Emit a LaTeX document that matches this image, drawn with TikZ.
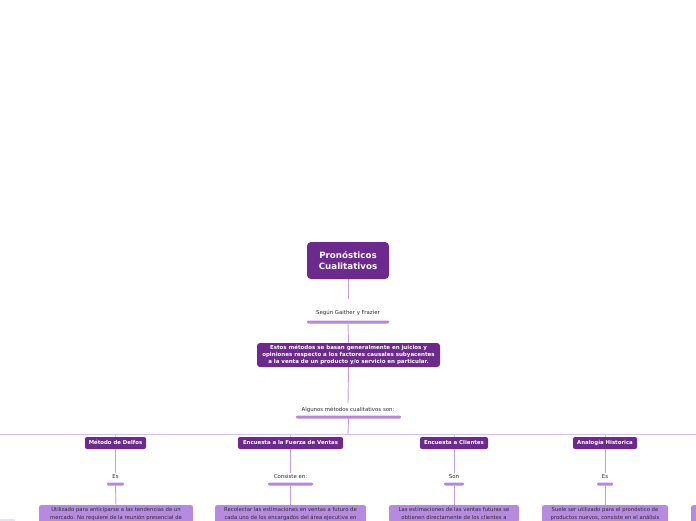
\documentclass[tikz,border=0pt]{standalone}
\usepackage{fontspec}
\setmainfont{DejaVu Sans}
\definecolor{dpurple}{RGB}{108,42,142}
\definecolor{barpurple}{RGB}{184,134,222}
\definecolor{linepurple}{RGB}{196,156,230}
\definecolor{hlinepurple}{RGB}{216,190,238}
\definecolor{bodypurple}{RGB}{182,138,222}
\definecolor{txtgray}{RGB}{45,45,45}
\tikzset{
  titlebox/.style={fill=dpurple, rounded corners=4pt, text=white, font=\fontsize{8.7}{10.5}\selectfont\bfseries, align=center, inner sep=0pt},
  mainbox/.style={fill=dpurple, rounded corners=3pt, text=white, font=\fontsize{5.5}{7}\selectfont\bfseries, align=center, inner sep=0pt},
  childbox/.style={fill=dpurple, rounded corners=2pt, text=white, font=\fontsize{5.4}{6}\selectfont\bfseries, align=center, inner sep=0pt, minimum height=12pt, text height=4.2pt, text depth=1.2pt},
  lbl/.style={text=txtgray, font=\fontsize{5.4}{6}\selectfont, inner sep=1pt, text height=4.2pt, text depth=1.2pt},
  barnode/.style={fill=barpurple, rounded corners=1.2pt, minimum height=3pt, inner sep=0pt},
  bodybox/.style={fill=bodypurple, rounded corners=2pt, text=txtgray, font=\fontsize{5.3}{8}\selectfont, align=center, inner xsep=0pt, inner ysep=2.2pt, anchor=north},
  conn/.style={draw=linepurple, line width=0.9pt},
  hconn/.style={draw=hlinepurple, line width=0.9pt},
}
\begin{document}
\begin{tikzpicture}[x=1pt,y=-1pt]
\useasboundingbox (0,0) rectangle (696,520);
\fill[white] (0,0) rectangle (696,520);
\clip (0,0) rectangle (696,520);

% root
\node[titlebox, minimum width=82pt, minimum height=37pt] (t) at (348,260.5) {Pronósticos\\Cualitativos};
\node[lbl] (l1) at (348,313) {Según Gaither y Frazier};
\node[barnode, minimum width=82pt] (b1) at (348,322) {};
\node[mainbox, minimum width=183pt, minimum height=24pt] (m) at (348.5,355) {Estos métodos se basan generalmente en juicios y\\opiniones respecto a los factores causales subyacentes\\a la venta de un producto y/o servicio en particular.};
\node[lbl] (l2) at (348,410) {Algunos métodos cualitativos son:};
\node[barnode, minimum width=105pt] (b2) at (348.5,417) {};

\draw[conn] (t.south) -- (348,299);
\draw[conn] (b1.south) -- (m.north);
\draw[conn] (m.south) -- (348,403);
\coordinate (hc) at (348,434);
\coordinate (hl) at (-10,434);
\coordinate (hr) at (706,434);
\draw[conn] (b2.south) -- (hc);
\draw[hconn] (hl) -- (hr);

% children
\node[childbox, minimum width=61pt] (c1) at (115.5,443) {Método de Delfos};
\node[childbox, minimum width=105pt] (c2) at (290.5,443) {Encuesta a la Fuerza de Ventas};
\node[childbox, minimum width=68pt] (c3) at (454,443) {Encuesta a Clientes};
\node[childbox, minimum width=64pt] (c4) at (605,443) {Analogía Historica};

\node[lbl] (e1) at (115.5,477) {Es};
\node[lbl] (e2) at (290.5,477) {Consiste en:};
\node[lbl] (e3) at (454,477) {Son};
\node[lbl] (e4) at (605,477) {Es};

\node[barnode, minimum width=17pt] (d1) at (115.5,484) {};
\node[barnode, minimum width=45pt] (d2) at (290.5,484) {};
\node[barnode, minimum width=20pt] (d3) at (454,484) {};
\node[barnode, minimum width=16pt] (d4) at (605,484) {};

\node[bodybox, minimum width=154pt] (p1) at (116,505) {Utilizado para anticiparse a las tendencias de un\\mercado. No requiere de la reunión presencial de};
\node[bodybox, minimum width=151pt] (p2) at (290.5,505) {Recolectar las estimaciones en ventas a futuro de\\cada uno de los encargados del área ejecutiva en};
\node[bodybox, minimum width=130pt] (p3) at (454,505) {Las estimaciones de las ventas futuras se\\obtienen directamente de los clientes a};
\node[bodybox, minimum width=126pt] (p4) at (605,505) {Suele ser utilizado para el pronóstico de\\productos nuevos, consiste en el análisis};

\foreach \i in {1,2,3,4}{
  \draw[hconn] (c\i.north) -- (c\i.north |- hc);
  \draw[conn] (c\i.south) -- (e\i.north);
  \draw[conn] (d\i.south) -- (p\i.north);
}

% partially visible neighbours at the edges
\node[fill=bodypurple, rounded corners=2pt, minimum width=20pt, minimum height=30pt, inner sep=0pt, anchor=north west] (px) at (691,505) {};
\node[fill=hlinepurple!50, minimum width=18pt, minimum height=6pt, inner sep=0pt, anchor=north west] (py) at (-3,519) {};
\end{tikzpicture}
\end{document}
